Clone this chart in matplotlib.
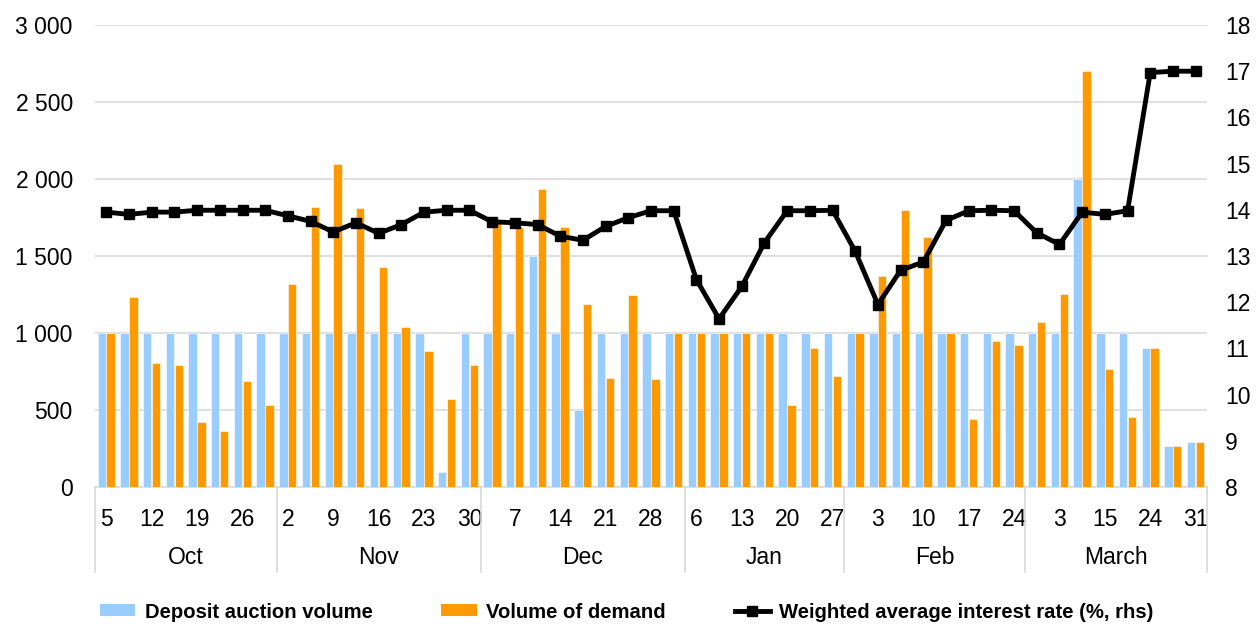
import matplotlib
matplotlib.use("Agg")
import matplotlib.pyplot as plt
import numpy as np
from matplotlib.patches import Patch
from matplotlib.lines import Line2D
from matplotlib.ticker import FuncFormatter
from matplotlib.transforms import blended_transform_factory

plt.rcParams['font.family'] = ['Liberation Sans', 'DejaVu Sans']

# Auction dates grouped by month (every other date is labelled)
months = ["Oct", "Nov", "Dec", "Jan", "Feb", "March"]
month_sizes = [8, 9, 9, 7, 8, 8]
day_labels = [
    "5", "", "12", "", "19", "", "26", "",
    "2", "", "9", "", "16", "", "23", "", "30",
    "", "7", "", "14", "", "21", "", "28", "",
    "6", "", "13", "", "20", "", "27",
    "", "3", "", "10", "", "17", "", "24",
    "", "3", "", "15", "", "24", "", "31",
]

# Deposit auction volume
deposit_volume = [
    1000, 1000, 1000, 1000, 1000, 1000, 1000, 1000,
    1000, 1000, 1000, 1000, 1000, 1000, 1000, 100, 1000,
    1000, 1000, 1500, 1000, 500, 1000, 1000, 1000, 1000,
    1000, 1000, 1000, 1000, 1000, 1000, 1000,
    1000, 1000, 1000, 1000, 1000, 1000, 1000, 1000,
    1000, 1000, 2000, 1000, 1000, 905, 265, 295,
]

# Volume of demand
demand_volume = [
    1000, 1235, 805, 790, 420, 365, 690, 530,
    1320, 1820, 2100, 1810, 1430, 1040, 880, 570, 790,
    1715, 1690, 1935, 1690, 1190, 710, 1250, 700, 1000,
    1000, 1000, 1000, 1000, 530, 900, 720,
    1000, 1370, 1800, 1625, 1000, 440, 950, 920,
    1070, 1255, 2700, 765, 455, 905, 265, 295,
]

# Weighted average interest rate, %
avg_rate = [
    13.95, 13.90, 13.95, 13.95, 13.99, 13.99, 13.99, 13.99,
    13.87, 13.75, 13.52, 13.72, 13.49, 13.68, 13.95, 13.99, 13.99,
    13.74, 13.72, 13.68, 13.43, 13.34, 13.64, 13.83, 13.98, 13.98,
    12.49, 11.64, 12.34, 13.29, 13.98, 13.98, 13.99,
    13.10, 11.95, 12.69, 12.87, 13.77, 13.98, 13.99, 13.98,
    13.50, 13.25, 13.95, 13.90, 13.98, 16.97, 17.00, 17.00,
]

BLUE = "#99CCFF"
ORANGE = "#FF9900"
GRID = "#D9D9D9"
FS = 16.5

fig = plt.figure(figsize=(12.59, 6.25), dpi=100)
ax = fig.add_axes([95 / 1259, 1 - 487 / 625, (1207 - 95) / 1259, (487 - 25) / 625])
ax2 = ax.twinx()

x = np.arange(len(day_labels))
bw = 0.37
ax.bar(x - 0.2, deposit_volume, width=bw, color=BLUE, edgecolor="white",
       linewidth=0.4, zorder=2)
ax.bar(x + 0.19, demand_volume, width=bw, color=ORANGE, edgecolor="white",
       linewidth=0.4, zorder=2)

ax2.plot(x, avg_rate, color="black", linewidth=3.5, marker="s",
         markersize=7.5, zorder=3)

ax.set_xlim(-0.5, len(x) - 0.5)
ax.set_ylim(0, 3000)
ax.set_yticks(np.arange(0, 3001, 500))
ax.yaxis.set_major_formatter(FuncFormatter(lambda v, p: f"{int(v):,}".replace(",", " ")))
ax.yaxis.grid(True, color=GRID, linewidth=1.2, zorder=0)
ax.set_axisbelow(True)

ax2.set_ylim(8, 18)
ax2.set_yticks(np.arange(8, 19, 1))

for a in (ax, ax2):
    for s in ("top", "left", "right", "bottom"):
        a.spines[s].set_visible(False)

ax.tick_params(axis="y", length=0, pad=16, labelsize=FS)
ax2.tick_params(axis="y", length=0, pad=13, labelsize=FS)

ax.set_xticks(x)
ax.set_xticklabels(day_labels)
ax.tick_params(axis="x", length=0, pad=15, labelsize=FS)

# Category axis line, month separators and month names
ax_h = 462.0
trans = blended_transform_factory(ax.transData, ax.transAxes)
ax.plot([-0.5, len(x) - 0.5], [0, 0], transform=trans, color=GRID,
        linewidth=1.2, clip_on=False, zorder=1)
bounds = np.concatenate([[0], np.cumsum(month_sizes)]) - 0.5
for b in bounds:
    ax.plot([b, b], [0, -85 / ax_h], transform=trans, color=GRID,
            linewidth=1.2, clip_on=False)
for name, lo, hi in zip(months, bounds[:-1], bounds[1:]):
    ax.text((lo + hi) / 2, -70 / ax_h, name, transform=trans, ha="center",
            va="center", fontsize=FS)

handles = [
    Patch(facecolor=BLUE, edgecolor="none"),
    Patch(facecolor=ORANGE, edgecolor="none"),
    Line2D([0], [0], color="black", linewidth=3.5, marker="s", markersize=7),
]
labels = ["Deposit auction volume", "Volume of demand",
          "Weighted average interest rate (%, rhs)"]
fig.legend(handles, labels, loc="center left",
           bbox_to_anchor=(100 / 1259, 13 / 625), ncol=3, frameon=False,
           borderpad=0, borderaxespad=0, handlelength=1.75, handleheight=0.55,
           handletextpad=0.45, columnspacing=3.4,
           prop={"weight": "bold", "size": 14.6})

fig.savefig("out.png", dpi=100)
